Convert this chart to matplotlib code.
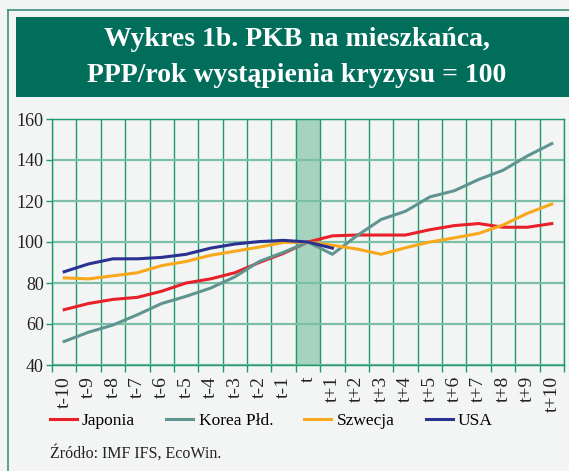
import matplotlib.pyplot as plt
from matplotlib.patches import Rectangle
from matplotlib.lines import Line2D

# dane
labels = ['t-10', 't-9', 't-8', 't-7', 't-6', 't-5', 't-4', 't-3', 't-2', 't-1', 't',
          't+1', 't+2', 't+3', 't+4', 't+5', 't+6', 't+7', 't+8', 't+9', 't+10']
japonia = [67, 70, 72, 73, 76, 80, 82, 85, 90, 94.5, 100,
           103, 103.4, 103.4, 103.4, 106, 108, 109, 107.2, 107.2, 109]
korea = [51.5, 56, 59.5, 64.5, 70, 73.5, 77.5, 83, 90.5, 95, 100,
         94, 103, 111, 115, 122, 125, 130.5, 135, 142, 148]
szwecja = [82.5, 82, 83.5, 85, 88.5, 90.5, 93.5, 95.5, 97.5, 99.8, 100,
           98.4, 96.6, 94, 97.2, 100, 102, 104.2, 108.3, 114, 118.5]
usa = [85.5, 89.3, 91.8, 91.8, 92.5, 94, 97, 99, 100.2, 100.8, 100, 97]

bg = '#f3f5f4'
dark_green = '#006e5b'
grid_v = '#1f9a6c'
grid_h = '#7dbfa4'

plt.rcParams['font.family'] = ['Liberation Serif', 'DejaVu Serif']

fig = plt.figure(figsize=(5.69, 4.71), dpi=100)
fig.patch.set_facecolor(bg)

# ramka i pasek tytulu
fig.add_artist(Line2D([8/569, 8/569], [0, 1 - 10/471], color='#3d8f7e', lw=1.2))
fig.add_artist(Line2D([8/569, 1], [1 - 10/471, 1 - 10/471], color='#3d8f7e', lw=1.2))
fig.add_artist(Rectangle((16/569, 1 - 97/471), 1, 80/471, facecolor=dark_green,
                         edgecolor='none', transform=fig.transFigure))
fig.text(297/569, 1 - 40/471, 'Wykres 1b. PKB na mieszkańca,', color='white',
         fontsize=20, fontweight='bold', ha='center', va='center')
fig.text(297/569, 1 - 76/471, 'PPP/rok wystąpienia kryzysu = 100', color='white',
         fontsize=20, fontweight='bold', ha='center', va='center')

ax = fig.add_axes([52/569, 1 - 365/471, 512/569, 246/471])
ax.set_facecolor(bg)
x = list(range(len(labels)))

ax.axvspan(9.5, 10.5, ymin=0.005, ymax=0.995, color='#a6d3bf', zorder=0)

ax.plot(x, japonia, color='#e8202a', lw=2.2, label='Japonia', zorder=3)
ax.plot(x, korea, color='#5f9490', lw=2.2, label='Korea Płd.', zorder=3)
ax.plot(x, szwecja, color='#f8a81c', lw=2.2, label='Szwecja', zorder=3)
ax.plot(x[:len(usa)], usa, color='#2b3190', lw=2.2, label='USA', zorder=4)

ax.set_xlim(-0.5, 20.5)
ax.set_ylim(40, 160)
ax.set_yticks(range(40, 161, 20))
ax.set_xticks(x)
ax.set_xticklabels(labels, rotation=90, fontsize=14, color='#222222')
ax.set_xticks([i - 0.5 for i in range(22)], minor=True)
ax.tick_params(axis='x', which='major', length=0, pad=8)
ax.tick_params(axis='x', which='minor', length=5, color=grid_v, width=1)
ax.tick_params(axis='y', length=4, color=grid_v, width=1, labelsize=13,
               labelcolor='#222222', pad=2)

ax.grid(True, axis='y', color=grid_h, lw=1.6, zorder=1)
ax.grid(True, axis='x', which='minor', color=grid_v, lw=1, zorder=1)
ax.set_axisbelow(True)
for s in ax.spines.values():
    s.set_color(grid_v)
    s.set_linewidth(1)

fig.legend(loc='upper left', bbox_to_anchor=(50/569, 1 - 413/471), ncol=4,
           frameon=False, fontsize=12.5, handlelength=1.55, handletextpad=0.3,
           columnspacing=1.8, borderaxespad=0, borderpad=0)

fig.text(50/569, 1 - 453/471, 'Źródło: IMF IFS, EcoWin.', fontsize=11.5,
         color='#222222', ha='left', va='center')

fig.savefig('out.png', dpi=100, facecolor=bg)
